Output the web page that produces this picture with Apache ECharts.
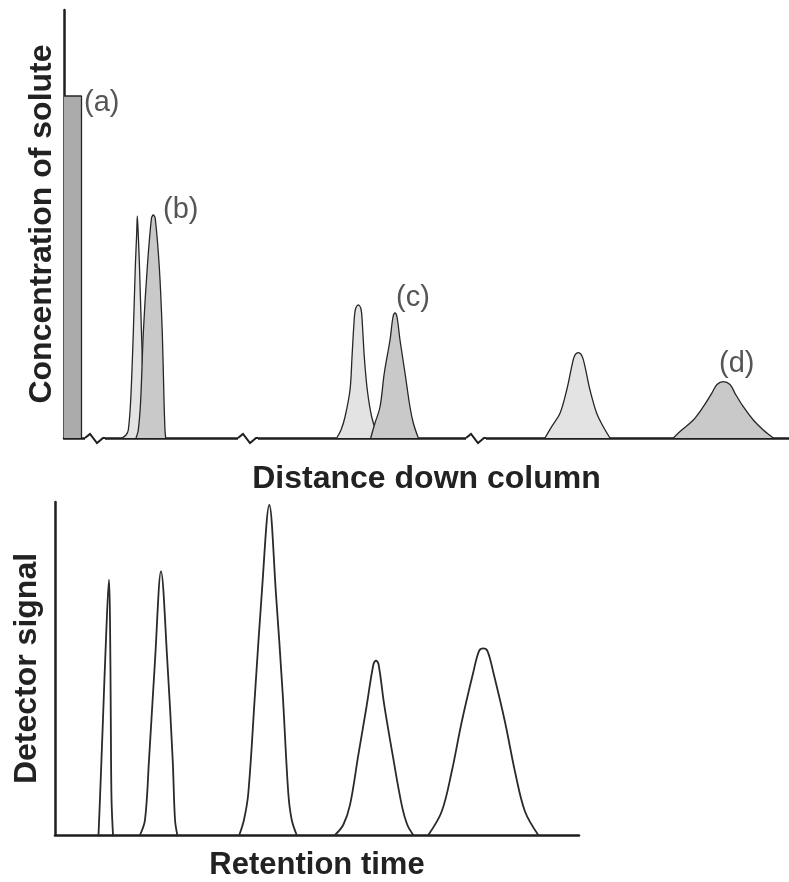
<!DOCTYPE html>
<html><head><meta charset="utf-8">
<script src="https://cdn.jsdelivr.net/npm/echarts@6/dist/echarts.min.js"></script>
<style>html,body{margin:0;padding:0;background:#fff}#c{width:789px;height:882px}</style>
</head><body><div id="c"></div>
<script>
// ---------- Top panel: concentration of solute vs distance down column ----------
// [distance, concentration]
const bandA = [[0,342],[17.5,342],[17.5,0]];
const bandB1 = [[58,0],[62,3],[64.3,8],[66.7,38],[69.3,105],[71.3,171],[72.7,205],[73.3,222],[74.2,205],[75.5,171],[77.5,105],[80,38],[82.5,8],[85,3],[89,0]];
const bandB2 = [[72,0],[74.3,8],[76.7,38],[79.3,105],[83.3,171],[87.5,220],[89.3,223],[91.2,220],[95.3,171],[98.3,105],[100,38],[101,8],[101.7,0]];
const bandC1 = [[272.7,0],[277,8],[281,21],[286,48],[288,81],[290,115],[291.5,129],[294.3,133],[297,129],[298.3,115],[300.3,81],[303.3,48],[307.7,21],[312,8],[317,0]];
const bandC2 = [[306.7,0],[311,15],[316,31],[320.3,65],[326,98],[329,121],[331,125],[333,121],[336,98],[341,65],[346,31],[349.3,15],[354.3,0]];
const bandD1 = [[481,0],[487.7,11.3],[496,24.7],[502.7,48],[507.7,71.3],[510.5,82],[514.3,85.3],[518,82],[521,71.3],[526,48],[532.7,24.7],[539.3,11.3],[546,0]];
const bandD2 = [[609.3,0],[617.7,8],[629.3,18],[639.3,31.3],[647.7,44.7],[653,53.5],[659.3,56.3],[666,53.5],[671,44.7],[679.3,31.3],[689.3,18],[699.3,8],[709.3,0]];
const bandLabels = [[20,335,'(a)'],[99,228,'(b)'],[332,140,'(c)'],[655,74,'(d)']];
const axisBreaks = [31, 184, 412];

// ---------- Bottom panel: detector signal vs retention time ----------
// [time, signal]
const peak1 = [[43.5,0],[45,37],[48,117],[51,197],[54,257],[55,217],[55.8,117],[56.5,37],[58,0]];
const peak2 = [[85,0],[90,15.3],[94,75.3],[100,175.3],[106,265.3],[112.3,175.3],[117.7,75.3],[120,15.3],[122.3,0]];
const peak3 = [[184.3,0],[189,15.3],[193.3,42],[200,142],[206.7,242],[214.3,332],[221,242],[227.7,142],[233.3,42],[236.7,15.3],[241.7,0]];
const peak4 = [[280,0],[288.3,10.3],[295,30.3],[303.3,80.3],[311.7,130.3],[318.5,172],[321,175.3],[323.5,172],[329.3,130.3],[337.7,80.3],[346.7,30.3],[352.3,10.3],[358.3,0]];
const peak5 = [[373.3,0],[386.7,23.7],[396.7,63.7],[406.7,113.7],[418.3,163.7],[424,185],[428.3,187.7],[432.5,185],[438.3,163.7],[450,113.7],[460,63.7],[470,23.7],[483.3,0]];

const FONT = "'Liberation Sans', Arial, Helvetica, sans-serif";
const INK = '#1e1e1e';
const LIGHT = '#e3e3e3', DARK = '#c9c9c9', BAR = '#ababab';

const chart = echarts.init(document.getElementById('c'), null, {renderer:'canvas'});

function axisBase(extra){
  return Object.assign({
    type:'value', axisTick:{show:false}, axisLabel:{show:false}, splitLine:{show:false},
    axisLine:{show:true, onZero:true, lineStyle:{color:INK, width:2.5}},
    nameLocation:'middle',
    nameTextStyle:{fontFamily:FONT, fontWeight:'bold', fontSize:32, color:'#222'}
  }, extra);
}

let zc = 2;
function band(data, fill, smooth){
  zc += 1;
  return {type:'line', xAxisIndex:0, yAxisIndex:0, data:data, smooth:smooth, symbol:'none', z:zc,
    lineStyle:{color:'#262626', width:1.3}, areaStyle:{color:fill, opacity:1}, silent:true};
}
function peak(data){
  return {type:'line', xAxisIndex:1, yAxisIndex:1, data:data, smooth:0.35, symbol:'none',
    lineStyle:{color:'#2a2a2a', width:1.8}, silent:true};
}

chart.setOption({
  animation:false,
  backgroundColor:'#fff',
  grid:[
    {left:64, top:10, width:725, height:428},
    {left:55, top:502, width:524, height:335}
  ],
  xAxis:[
    axisBase({gridIndex:0, min:0, max:725, name:'Distance down column', nameGap:25}),
    axisBase({gridIndex:1, min:0, max:524, name:'Retention time', nameGap:15,
      nameTextStyle:{fontFamily:FONT, fontWeight:'bold', fontSize:31, color:'#222'}})
  ],
  yAxis:[
    axisBase({gridIndex:0, min:0, max:428, name:'Concentration of solute', nameGap:6}),
    axisBase({gridIndex:1, min:0, max:335, name:'Detector signal', nameGap:12})
  ],
  series:[
    band(bandA, BAR, false),
    band(bandB1, LIGHT, 0.3),
    band(bandB2, DARK, 0.3),
    band(bandC1, LIGHT, 0.35),
    band(bandC2, DARK, 0.35),
    band(bandD1, LIGHT, 0.35),
    band(bandD2, DARK, 0.35),
    {
      type:'scatter', xAxisIndex:0, yAxisIndex:0, symbolSize:0, silent:true, z:20,
      data:bandLabels,
      label:{show:true, position:'right', distance:0, formatter:p=>p.value[2],
        fontFamily:FONT, fontSize:29, color:'#2a2a2a'}
    },
    {
      type:'custom', xAxisIndex:0, yAxisIndex:0, silent:true, clip:false, z:20,
      data:axisBreaks.map(x=>[x,0]),
      renderItem:function(params, api){
        const p = api.coord([api.value(0), 0]);
        const x = p[0], y = p[1];
        return {type:'group', children:[
          {type:'rect', shape:{x:x-10, y:y-3, width:20, height:6}, style:{fill:'#fff'}},
          {type:'polyline', shape:{points:[[x-10,y],[x-5,y-4],[x+2,y+5],[x+8,y],[x+10,y]]},
           style:{stroke:INK, lineWidth:2, fill:null}}
        ]};
      }
    },
    peak(peak1), peak(peak2), peak(peak3), peak(peak4), peak(peak5)
  ]
});
</script></body></html>
